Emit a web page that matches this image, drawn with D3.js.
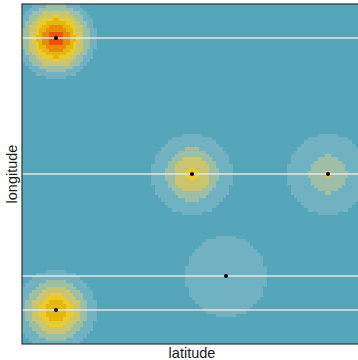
<!DOCTYPE html>
<html>
<head>
<meta charset="utf-8">
<script src="https://cdn.jsdelivr.net/npm/d3@7"></script>
<style>
  body { margin: 0; background: #fff; }
  text { font-family: "Liberation Sans", Arial, sans-serif; }
</style>
</head>
<body>
<script>
const width = 358;
const height = 360;

// observations
const latitude = [0.1, 0.5, 0.9, 0.6, 0.1];
const longitude = [0.9, 0.5, 0.5, 0.2, 0.1];
const intensity = [1, 0.56, 0.38, 0.15, 0.766];

// horizontal guide lines
const lonBreaks = [0.1, 0.2, 0.5, 0.9];

// binned colour levels (value 0 -> first colour)
const levelBreaks = [1e-6, 0.24, 0.37, 0.54, 0.64, 0.78, 0.93];
const levelColors = ['#56a6bb', '#70b2c2', '#9cbfa5', '#cbc66e', '#eacb2c', '#e5b60c', '#e98c05', '#ef5208'];

const gridSize = 100;
const bandwidth = 0.0588;
const cutoff = 0.12;

const margin = {top: 4, left: 22};
const plotSize = 340;

const x = d3.scaleLinear().domain([0, 1]).range([margin.left, margin.left + plotSize]);
const y = d3.scaleLinear().domain([0, 1]).range([margin.top + plotSize, margin.top]);

const color = d3.scaleThreshold()
    .domain(levelBreaks)
    .range(levelColors);

const points = latitude.map((d, i) => ({lat: d, lon: longitude[i], w: intensity[i]}));

// kernel surface on a regular grid
const cells = [];
for (let i = 0; i < gridSize; i++) {
    for (let j = 0; j < gridSize; j++) {
        const cx = (i + 0.5) / gridSize;
        const cy = (j + 0.5) / gridSize;
        let v = 0;
        points.forEach(p => {
            const d2 = (cx - p.lat) ** 2 + (cy - p.lon) ** 2;
            if (d2 < cutoff * cutoff) v += p.w * Math.exp(-d2 / (2 * bandwidth * bandwidth));
        });
        cells.push({i: i, j: j, value: v});
    }
}

const svg = d3.select('body')
    .append('svg')
    .attr('width', width)
    .attr('height', height);

svg.append('defs').append('clipPath')
    .attr('id', 'plot-clip')
    .append('rect')
    .attr('x', x(0)).attr('y', y(1))
    .attr('width', plotSize).attr('height', plotSize);

const plot = svg.append('g').attr('clip-path', 'url(#plot-clip)');

plot.append('g')
    .selectAll('rect')
    .data(cells)
    .enter().append('rect')
    .attr('x', d => x(d.i / gridSize))
    .attr('y', d => y((d.j + 1) / gridSize))
    .attr('width', x(1 / gridSize) - x(0) + 0.3)
    .attr('height', y(0) - y(1 / gridSize) + 0.3)
    .attr('shape-rendering', 'crispEdges')
    .style('fill', d => color(d.value));

plot.append('g')
    .selectAll('line')
    .data(lonBreaks)
    .enter().append('line')
    .attr('x1', x(0))
    .attr('x2', x(1))
    .attr('y1', d => y(d))
    .attr('y2', d => y(d))
    .style('stroke', '#e6e6e6')
    .style('stroke-width', 1.3);

plot.append('g')
    .selectAll('circle')
    .data(points)
    .enter().append('circle')
    .attr('cx', d => x(d.lat))
    .attr('cy', d => y(d.lon))
    .attr('r', 2)
    .style('fill', '#000');

// panel border
svg.append('rect')
    .attr('x', x(0))
    .attr('y', y(1))
    .attr('width', plotSize)
    .attr('height', plotSize)
    .style('fill', 'none')
    .style('stroke', '#333')
    .style('stroke-width', 1.2);

svg.append('text')
    .attr('x', x(0.5))
    .attr('y', 358)
    .attr('text-anchor', 'middle')
    .style('font-size', '14.5px')
    .style('fill', '#1a1a1a')
    .text('latitude');

svg.append('text')
    .attr('transform', `translate(16.5,${y(0.5)}) rotate(-90)`)
    .attr('text-anchor', 'middle')
    .style('font-size', '14.5px')
    .style('fill', '#1a1a1a')
    .text('longitude');
</script>
</body>
</html>
